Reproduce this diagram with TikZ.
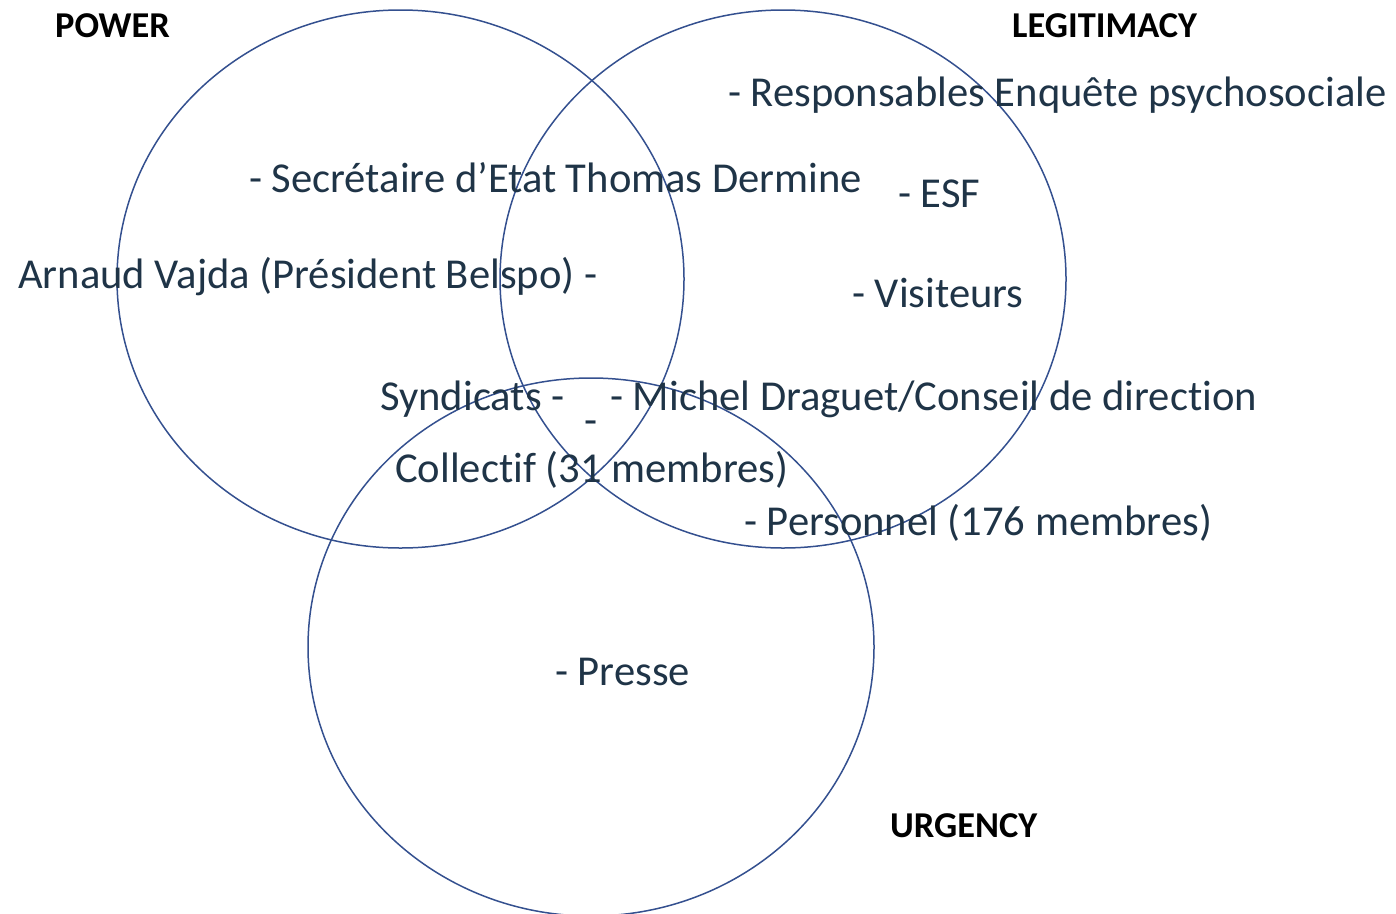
\documentclass[tikz,border=0pt]{standalone}
\usepackage{fontspec}
\setmainfont[Ligatures=NoCommon]{Carlito}
\definecolor{txtcol}{HTML}{1F3447}
\definecolor{ringcol}{HTML}{34508F}

\begin{document}
\begin{tikzpicture}[x=1pt,y=-1pt,
	item/.style={anchor=base west,inner sep=0pt,text=txtcol,font=\fontsize{42.6}{50}\selectfont},
	head/.style={anchor=base west,inner sep=0pt,font=\bfseries\fontsize{36.4}{43}\selectfont},
	ring/.style={draw=ringcol,line width=1.5pt}]
	\useasboundingbox (0,0) rectangle (1396,913);

	% the three sets
	\draw[ring] (400.5,279) ellipse [x radius=283.5, y radius=269];
	\draw[ring] (783,279) ellipse [x radius=283, y radius=269];
	\draw[ring] (591,647) ellipse [x radius=283, y radius=269];

	\node[head](power) at (55,37) {POWER};
	\node[head](legit) at (1012,37) {LEGITIMACY};
	\node[head](urgency) at (890,837) {URGENCY};

	\node[item](enquete) at (728,106) {- Responsables Enquête psychosociale};
	\node[item](dermine) at (249,192) {- Secrétaire d’Etat Thomas Dermine};
	\node[item](esf) at (898,207) {- ESF};
	\node[item](vajda) at (18,288) {Arnaud Vajda (Président Belspo) -};
	\node[item](visiteurs) at (852,307) {- Visiteurs};
	\node[item](syndicats) at (380,410) {Syndicats -};
	\node[item](draguet) at (610,410) {- Michel Draguet/Conseil de direction};
	\node[item](tiret) at (584,434) {-};
	\node[item](collectif) at (395,482) {Collectif (31 membres)};
	\node[item](personnel) at (744,535) {- Personnel (176 membres)};
	\node[item](presse) at (555,685) {- Presse};
\end{tikzpicture}
\end{document}
